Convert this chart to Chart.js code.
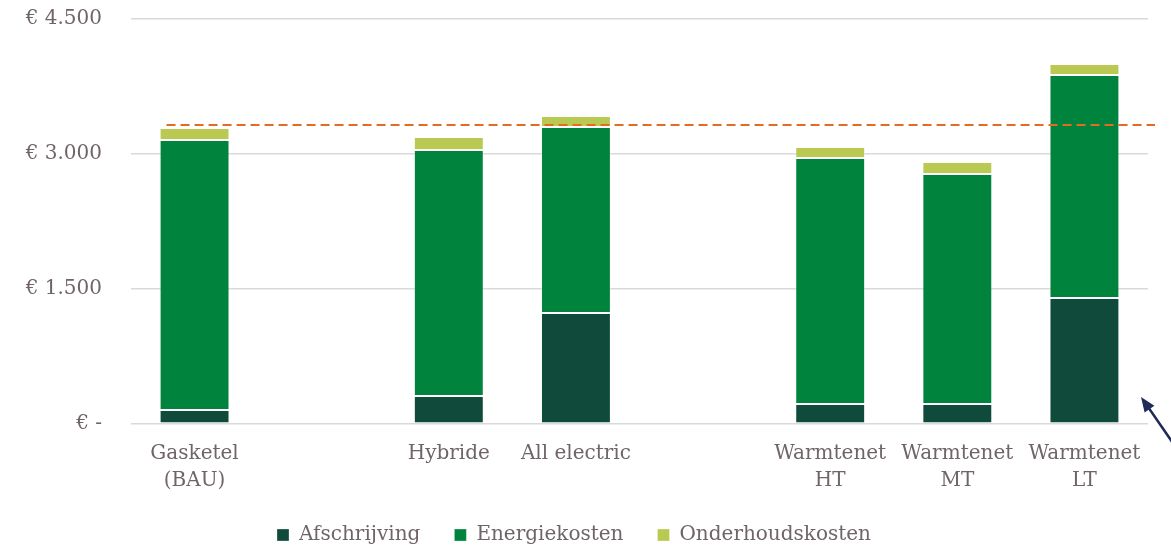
<!DOCTYPE html>
<html>
<head>
<meta charset="utf-8">
<script src="https://cdn.jsdelivr.net/npm/chart.js@4/dist/chart.umd.min.js"></script>
<style>
  html, body { margin: 0; padding: 0; background: #fff; }
  #wrap { width: 1171px; height: 546px; }
</style>
</head>
<body>
<div id="wrap"><canvas id="chart"></canvas></div>
<script>
// categories (empty slots are the gaps between groups)
const categories = [['Gasketel', '(BAU)'], '', 'Hybride', 'All electric', '', ['Warmtenet', 'HT'], ['Warmtenet', 'MT'], ['Warmtenet', 'LT']];
const afschrijving = [155, null, 311, 1233, null, 222, 222, 1400];
const energiekosten = [3000, null, 2733, 2067, null, 2733, 2556, 2478];
const onderhoudskosten = [134, null, 145, 122, null, 123, 133, 122];
const referenceLine = 3322; // red dashed line (BAU level)
const yTicks = [0, 1500, 3000, 4500];

const TEXT = '#6f6468';
const FONT = '"DejaVu Serif", "Liberation Serif", serif';
const FS = 20;

function euro(v) {
  if (v === 0) return '€ -';
  return '€ ' + v.toLocaleString('nl-NL');
}

// keep the legend short while its items stay wide apart
const legendHeight = {
  id: 'legendHeight',
  beforeLayout(chart) {
    const lg = chart.legend;
    if (lg && !lg._patched) {
      const fit = lg.fit;
      lg.fit = function () { fit.call(this); this.height = 55; };
      lg._patched = true;
    }
  }
};

// dashed reference line + arrow annotation
const extras = {
  id: 'extras',
  afterDatasetsDraw(chart) {
    const { ctx, scales: { x, y } } = chart;
    const yy = y.getPixelForValue(referenceLine);
    const x0 = x.getPixelForValue(0) - 28;
    ctx.save();
    ctx.strokeStyle = '#e36c25';
    ctx.lineWidth = 2;
    ctx.setLineDash([9, 5]);
    ctx.beginPath();
    ctx.moveTo(x0, yy);
    ctx.lineTo(chart.width - 16, yy);
    ctx.stroke();
    ctx.setLineDash([]);
    // arrow pointing at the last bar
    ctx.strokeStyle = '#1f2b57';
    ctx.fillStyle = '#1f2b57';
    ctx.lineWidth = 2.5;
    const tipX = 1141, tipY = 397;
    ctx.beginPath();
    ctx.moveTo(1175, 446);
    ctx.lineTo(tipX + 5, tipY + 7);
    ctx.stroke();
    const ang = Math.atan2(446 - tipY, 1175 - tipX);
    ctx.beginPath();
    ctx.moveTo(tipX, tipY);
    ctx.lineTo(tipX + 16 * Math.cos(ang - 0.38), tipY + 16 * Math.sin(ang - 0.38));
    ctx.lineTo(tipX + 16 * Math.cos(ang + 0.38), tipY + 16 * Math.sin(ang + 0.38));
    ctx.closePath();
    ctx.fill();
    ctx.restore();
  }
};

function ds(label, data, color) {
  return {
    label, data,
    backgroundColor: color,
    borderColor: 'rgba(255,255,255,0.3)',
    borderWidth: 1,
    borderSkipped: false,
    categoryPercentage: 1,
    barPercentage: 0.55
  };
}

new Chart(document.getElementById('chart'), {
  type: 'bar',
  data: {
    labels: categories,
    datasets: [
      ds('Afschrijving', afschrijving, '#0f4a3a'),
      ds('Energiekosten', energiekosten, '#00843d'),
      ds('Onderhoudskosten', onderhoudskosten, '#b9c952')
    ]
  },
  options: {
    responsive: true,
    maintainAspectRatio: false,
    animation: false,
    layout: { padding: { left: 0, right: 23, top: 19, bottom: 0 } },
    plugins: {
      legend: {
        position: 'bottom',
        labels: {
          color: TEXT,
          font: { family: FONT, size: FS },
          boxWidth: 12, boxHeight: 12,
          padding: 34
        }
      },
      tooltip: { enabled: false }
    },
    scales: {
      x: {
        stacked: true,
        grid: { display: false, drawTicks: false },
        border: { display: false },
        ticks: {
          color: TEXT,
          font: { family: FONT, size: FS, lineHeight: 1.35 },
          padding: 16,
          maxRotation: 0,
          autoSkip: false
        },
        afterFit(s) { s.height = 67; }
      },
      y: {
        stacked: true,
        min: 0, max: 4500,
        afterBuildTicks(s) { s.ticks = yTicks.map(v => ({ value: v })); },
        grid: { color: '#d9d9d9', lineWidth: 1.5, drawTicks: false },
        border: { display: false },
        ticks: {
          color: TEXT,
          font: { family: FONT, size: FS },
          padding: 29,
          callback: v => euro(v)
        },
        afterFit(s) { s.width = 131; s.paddingTop = 0; s.paddingBottom = 0; }
      }
    }
  },
  plugins: [legendHeight, extras]
});
</script>
</body>
</html>
